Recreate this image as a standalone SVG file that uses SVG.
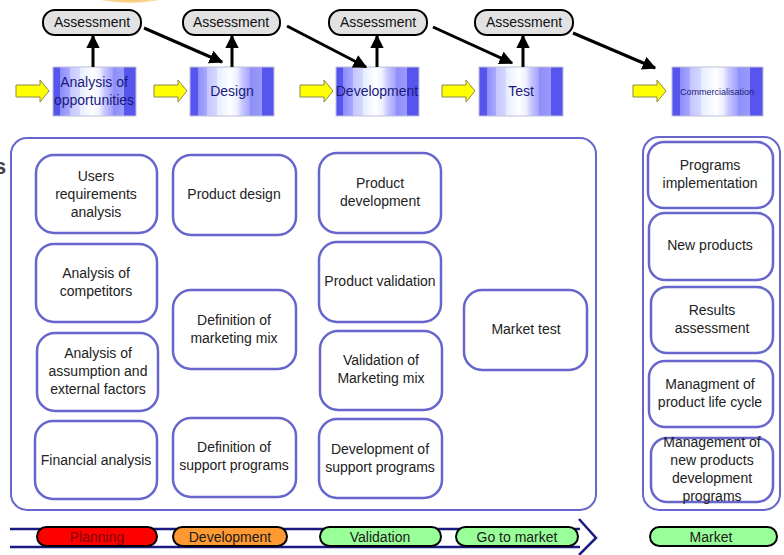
<svg xmlns="http://www.w3.org/2000/svg" width="784" height="555" viewBox="0 0 784 555">
<defs>
<linearGradient id="stripe" x1="0" y1="0" x2="1" y2="0">
<stop offset="0" stop-color="#5656ee"/><stop offset="0.09" stop-color="#5656ee"/>
<stop offset="0.09" stop-color="#8c8cfa"/><stop offset="0.2" stop-color="#a8a8ff"/>
<stop offset="0.2" stop-color="#c4c4ff"/><stop offset="0.32" stop-color="#d4d8ff"/>
<stop offset="0.32" stop-color="#e4ecff"/><stop offset="0.48" stop-color="#ffffff"/>
<stop offset="0.56" stop-color="#eef0ff"/><stop offset="0.62" stop-color="#c8c8ff"/>
<stop offset="0.72" stop-color="#a0a0ff"/><stop offset="0.72" stop-color="#8e8ef6"/>
<stop offset="0.86" stop-color="#9a9aff"/><stop offset="0.86" stop-color="#5656ee"/>
<stop offset="1" stop-color="#5656ee"/>
</linearGradient>
<radialGradient id="glow" cx="0.5" cy="0.5" r="0.5">
<stop offset="0.8" stop-color="#f7b040"/><stop offset="1" stop-color="#fbe0b0"/>
</radialGradient>
<marker id="ah" viewBox="0 0 10 10" refX="9" refY="5" markerWidth="4.6" markerHeight="4.6" orient="auto" markerUnits="strokeWidth">
<path d="M0,0 L10,5 L0,10 z" fill="#000"/>
</marker>
<polygon id="yarrow" points="0,5 24,5 24,0 33,11 24,22 24,17 0,17"/>
</defs>
<style>
text{font-family:"Liberation Sans",Arial,sans-serif;}
.node rect{fill:#fff;stroke:#6666cc;stroke-width:2.5;}
.node text{font-size:14px;fill:#222;text-anchor:middle;}
.stage rect{fill:url(#stripe);stroke:#c0c0d8;stroke-width:1;}
.stage text{font-size:14px;fill:#1a1a7a;text-anchor:middle;}
.assess rect{fill:#e2e2e2;stroke:#000;stroke-width:2;}
.assess text{font-size:14px;fill:#111;text-anchor:middle;}
.cont{fill:#fff;stroke:#6666cc;stroke-width:2;}
.conn line{stroke:#000;stroke-width:3;marker-end:url(#ah);}
.yel{fill:#ffff00;stroke:#8a8a50;stroke-width:1;}
.pill rect{stroke:#000;stroke-width:2;}
.pill text{font-size:14px;text-anchor:middle;}
</style>
<rect width="784" height="555" fill="#fff"/>
<ellipse cx="130" cy="-22" rx="62" ry="25" fill="url(#glow)"/>
<text x="-6" y="174" font-size="22" fill="#444" font-weight="bold">s</text>

<!-- containers -->
<rect id="main-container" class="cont" x="11" y="138" width="585" height="372" rx="16"/>
<rect id="market-container" class="cont" x="643" y="137" width="137" height="373" rx="16"/>

<!-- stages -->
<g id="stage-analysis" class="stage"><rect x="53" y="67" width="83" height="49"/><text x="94" y="87">Analysis of</text><text x="94" y="105">opportunities</text></g>
<g id="stage-design" class="stage"><rect x="190" y="67" width="84" height="49"/><text x="232" y="96">Design</text></g>
<g id="stage-development" class="stage"><rect x="336" y="67" width="83" height="49"/><text x="377" y="96">Development</text></g>
<g id="stage-test" class="stage"><rect x="479" y="67" width="84" height="49"/><text x="521" y="96">Test</text></g>
<g id="stage-commercialisation" class="stage"><rect x="672" y="67" width="91" height="49"/><text x="717" y="95" style="font-size:9px">Commercialisation</text></g>

<!-- assessments -->
<g id="assess-1" class="assess"><rect x="43" y="10" width="98" height="25" rx="12"/><text x="92" y="27">Assessment</text></g>
<g id="assess-2" class="assess"><rect x="183" y="10" width="97" height="25" rx="12"/><text x="231" y="27">Assessment</text></g>
<g id="assess-3" class="assess"><rect x="329" y="10" width="98" height="25" rx="12"/><text x="378" y="27">Assessment</text></g>
<g id="assess-4" class="assess"><rect x="475" y="10" width="98" height="25" rx="12"/><text x="524" y="27">Assessment</text></g>

<!-- connectors -->
<g id="connectors" class="conn">
<line x1="93" y1="67" x2="93" y2="36"/>
<line x1="232" y1="67" x2="232" y2="36"/>
<line x1="377" y1="67" x2="377" y2="36"/>
<line x1="523" y1="67" x2="523" y2="36"/>
<line x1="144" y1="28" x2="222" y2="62"/>
<line x1="287" y1="26" x2="366" y2="67"/>
<line x1="433" y1="27" x2="512" y2="63"/>
<line x1="573" y1="33" x2="655" y2="68"/>
<use href="#yarrow" class="yel" x="16" y="80"/>
<use href="#yarrow" class="yel" x="154" y="80"/>
<use href="#yarrow" class="yel" x="300" y="80"/>
<use href="#yarrow" class="yel" x="442" y="80"/>
<use href="#yarrow" class="yel" x="633" y="80"/>
</g>

<!-- column 1 -->
<g id="n-users" class="node"><rect x="36" y="155" width="121" height="78" rx="18"/><text x="96" y="181">Users</text><text x="96" y="199">requirements</text><text x="96" y="217">analysis</text></g>
<g id="n-competitors" class="node"><rect x="36" y="244" width="121" height="78" rx="18"/><text x="96" y="278">Analysis of</text><text x="96" y="296">competitors</text></g>
<g id="n-assumption" class="node"><rect x="37" y="333" width="121" height="78" rx="18"/><text x="98" y="358">Analysis of</text><text x="98" y="376">assumption and</text><text x="98" y="394">external factors</text></g>
<g id="n-financial" class="node"><rect x="35" y="421" width="122" height="78" rx="18"/><text x="96" y="465">Financial analysis</text></g>

<!-- column 2 -->
<g id="n-product-design" class="node"><rect x="173" y="155" width="123" height="80" rx="18"/><text x="234" y="199">Product design</text></g>
<g id="n-marketing-mix" class="node"><rect x="173" y="290" width="123" height="79" rx="18"/><text x="234" y="325">Definition of</text><text x="234" y="343">marketing mix</text></g>
<g id="n-support-def" class="node"><rect x="173" y="418" width="123" height="79" rx="18"/><text x="234" y="452">Definition of</text><text x="234" y="470">support programs</text></g>

<!-- column 3 -->
<g id="n-product-dev" class="node"><rect x="319" y="153" width="122" height="80" rx="18"/><text x="380" y="188">Product</text><text x="380" y="206">development</text></g>
<g id="n-product-val" class="node"><rect x="319" y="242" width="122" height="80" rx="18"/><text x="380" y="286">Product validation</text></g>
<g id="n-mix-val" class="node"><rect x="320" y="331" width="122" height="79" rx="18"/><text x="381" y="365">Validation  of</text><text x="381" y="383">Marketing mix</text></g>
<g id="n-support-dev" class="node"><rect x="319" y="419" width="123" height="79" rx="18"/><text x="380" y="454">Development of</text><text x="380" y="472">support programs</text></g>

<g id="n-market-test" class="node"><rect x="464" y="290" width="123" height="80" rx="18"/><text x="526" y="334">Market test</text></g>

<!-- right column -->
<g id="n-programs-impl" class="node"><rect x="648" y="142" width="125" height="66" rx="16"/><text x="710" y="170">Programs</text><text x="710" y="188">implementation</text></g>
<g id="n-new-products" class="node"><rect x="649" y="213" width="124" height="67" rx="16"/><text x="710" y="250">New products</text></g>
<g id="n-results" class="node"><rect x="651" y="287" width="122" height="66" rx="16"/><text x="712" y="315">Results</text><text x="712" y="333">assessment</text></g>
<g id="n-lifecycle" class="node"><rect x="649" y="361" width="124" height="66" rx="16"/><text x="710" y="389">Managment of</text><text x="710" y="407">product life cycle</text></g>
<g id="n-npd-programs" class="node"><rect x="651" y="438" width="122" height="64" rx="16"/><text x="712" y="447">Management of</text><text x="712" y="465">new products</text><text x="712" y="483">development</text><text x="712" y="501">programs</text></g>

<!-- timeline -->
<g id="timeline">
<line x1="10" y1="529" x2="580" y2="529" stroke="#1a1a80" stroke-width="2.5"/>
<line x1="10" y1="547" x2="580" y2="547" stroke="#1a1a80" stroke-width="2.5"/>
<polyline points="579,519 596,538 579,555" fill="none" stroke="#1a1a80" stroke-width="2.5"/>
</g>
<g id="p-planning" class="pill"><rect x="37" y="527" width="120" height="19" rx="9.5" fill="#ff0000"/><text x="97" y="542" fill="#800000">Planning</text></g>
<g id="p-development" class="pill"><rect x="173" y="527" width="114" height="19" rx="9.5" fill="#ff9933"/><text x="230" y="542" fill="#1a1a1a">Development</text></g>
<g id="p-validation" class="pill"><rect x="320" y="527" width="121" height="19" rx="9.5" fill="#99ff99"/><text x="380" y="542" fill="#1a1a1a">Validation</text></g>
<g id="p-gotomarket" class="pill"><rect x="456" y="527" width="122" height="19" rx="9.5" fill="#99ff99"/><text x="517" y="542" fill="#1a1a1a">Go to market</text></g>
<g id="p-market" class="pill"><rect x="650" y="527" width="127" height="19" rx="9.5" fill="#99ff99"/><text x="711" y="542" fill="#1a1a1a">Market</text></g>
</svg>
